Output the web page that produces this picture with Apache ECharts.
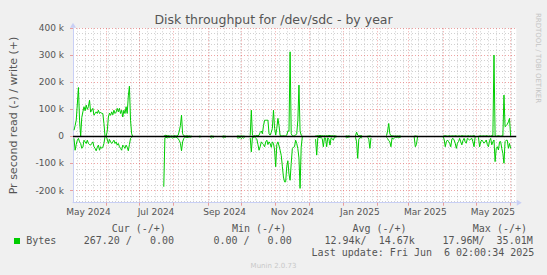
<!DOCTYPE html>
<html>
<head>
<meta charset="utf-8">
<script src="https://cdn.jsdelivr.net/npm/echarts@6/dist/echarts.min.js"></script>
<style>html,body{margin:0;padding:0;background:#f0f0f0}#c{width:547px;height:275px}</style>
</head>
<body>
<div id="c"></div>
<script>
// ---- data (k bytes/s), daily samples, one array per contiguous segment ----
const segStarts = ['2024-05-03','2024-07-23','2024-08-24','2024-09-03','2024-09-14','2024-09-27',
  '2024-10-09','2024-12-07','2025-01-03','2025-01-12','2025-01-23','2025-02-09','2025-03-06',
  '2025-04-01','2025-05-03'];
const writeK = [
  [23,40,60,120,181,60,0,70,91,110, 95,116,100,110,134,90,97,104,79,85, 91,85,97,85,90,85,85,48,0,
   0,20,72,86,78,91,80,97,85,90, 104,91,104,85,97,72,97,85,110,85, 150,186,60,10,0],
  [2,3,5,2,3,2,1,2,1, 2,3,1,2,5,20,40,79,10,3,2,1,3,1,2,1,2],
  [1,2],
  [1,2,1,1],
  [1,2,1,1],
  [1,2,1,1,2,1,1,1],
  [3,97,5,2,3,2,4,2,5,15, 20,10,40,60,60,60,60,10,5,15, 30,97,30,
   5,30,67,40,3,2,2,3,2,2, 5,20,20,313,10,3,2,3,5,10, 60,190,20,5,3],
  [3,2,3,2,4,2,3,2,3,2, 3,2,4,3,2,3,2,3,2,1],
  [1,2,1,2,1],
  [2,16,5,3,2,3,2],
  [2,1,2,1],
  [3,20,48,10,3,2,2,1,2,1,2,1,2,1],
  [1,2,1,1],
  [1,2,3,2,1,2,3,1,2,2, 1,3,2,1,2,2,1,3,2,1, 2,1,2,3,1,2,1,2,3,1],
  [1,2,3,1,2,2,1,3,2,1, 2,1,3,2,301,2,1,2,3,2, 1,2,2,153,36,40,45,54,67, 2]
];
const readK = [
  [7,51,30,14,7,20,26,44,40,14, 20,26,14,26,30,32,26,20,38,44, 53,40,32,51,38,44,40,26,0,
   0,10,26,11,20,26,20,14,26,20, 32,26,38,44,51,32,38,44,32,40, 53,30,7,3,0],
  [186,5,2,6,3,4,2,3,6, 4,3,2,5,8,15,25,53,20,8,3,2,4,3,2,3,2],
  [2,3],
  [3,6,2,4],
  [3,5,2,3],
  [4,6,5,3,8,4,6,3],
  [5,57,3,4,2,6,10,30,51,38, 20,26,30,38,20,14,30,20,26,40, 20,26,50,
   112,30,20,35,51,70,110,150,168,168, 110,90,140,162,100,45,40,38,14,26, 45,80,192,40,2],
  [10,69,5,3,5,4,8,38,5,6, 38,5,10,32,5,8,14,3,2,1],
  [2,5,3,2,1],
  [3,20,81,10,5,4,6],
  [3,10,44,5],
  [3,8,15,20,38,5,10,6,3,4,3,5,3,2],
  [2,38,30,2],
  [1,10,38,20,13,19,25,38,10,7, 13,25,44,25,19,7,20,31,15,7, 20,25,7,10,13,10,7,20,38,1],
  [3,38,20,13,19,25,20,13,30,38, 15,7,31,20,13,93,45,38,50,20, 19,44,63,99,19,14,14,44,26, 44]
];
const yTicks = [-200000,-100000,0,100000,200000,300000,400000];
const monthStarts = ['2024-06-01','2024-07-01','2024-08-01','2024-09-01','2024-10-01','2024-11-01',
  '2024-12-01','2025-01-01','2025-02-01','2025-03-01','2025-04-01','2025-05-01','2025-06-01'];
const labelDates = ['2024-05-16','2024-07-16','2024-09-16','2024-11-16','2025-01-16','2025-03-16','2025-05-16'];
const labelTexts = ['May 2024','Jul 2024','Sep 2024','Nov 2024','Jan 2025','Mar 2025','May 2025'];
const legendHead = ['Cur (-/+)','Min (-/+)','Avg (-/+)','Max (-/+)'];
const legendVals = ['267.20 /','0.00','0.00 /','0.00','12.94k/','14.67k','17.96M/','35.01M'];

// ---- helpers ----
function dayAt(s, i) { const p = s.split('-').map(Number); return new Date(p[0], p[1]-1, p[2] + (i||0)).getTime(); }
function build(vals, sign) {
  const out = [];
  segStarts.forEach((s, k) => {
    vals[k].forEach((v, i) => out.push([dayAt(s, i), sign * v * 1000]));
    out.push([dayAt(s, vals[k].length), '-']);
  });
  return out;
}
const xMin = new Date(2024, 4, 2, 2, 0, 34).getTime();
const xMax = new Date(2025, 5, 6, 2, 0, 34).getTime();
const monthTicks = monthStarts.map(s => dayAt(s, 0));
const labelTs = labelDates.map(s => dayAt(s, 0));
const weekLines = [];
for (let i = 0; ; i++) { const v = new Date(2024, 4, 6 + 7*i).getTime(); if (v > xMax) break; weekLines.push(v); }
const yMinor = [];
for (let v = -240000; v <= 400000; v += 20000) if (v % 100000 !== 0) yMinor.push(v);

const FONT = 'DejaVu Sans';
const MONO = 'DejaVu Sans Mono';
const TXT = '#555555';
const AXIS = '#c8cff5';
const MGRID = 'rgba(230,90,90,0.55)';
const GRID = 'rgba(150,150,150,0.45)';

function txt(x, y, s, size, color, family, align, extra) {
  return Object.assign({type:'text', x:x, y:y, silent:true,
    style:{text:s, fill:color, fontSize:size, fontFamily:family, align:align||'left', verticalAlign:'middle'}}, extra||{});
}
const headX = [111.7, 232, 352.4, 472.8];
const valX = [83.7, 149.9, 213.5, 267.6, 324.5, 378.7, 442.4, 496.6];
const graphics = [
  txt(273.5, 19.5, 'Disk throughput for /dev/sdc - by year', 12.5, TXT, FONT, 'center'),
  txt(537.5, 58, 'RRDTOOL / TOBI OETIKER', 7, '#c4c4c4', FONT, 'center', {rotation: -Math.PI/2}),
  {type:'rect', x:14, y:238, shape:{width:6, height:6}, style:{fill:'#00cc00'}, silent:true},
  txt(26.2, 240.7, 'Bytes', 10, TXT, MONO),
  txt(311.6, 252.9, 'Last update: Fri Jun', 10, TXT, MONO),
  txt(444, 252.9, '6 02:00:34 2025', 10, TXT, MONO),
  txt(273.5, 266.2, 'Munin 2.0.73', 7, '#c8c8c8', FONT, 'center')
];
legendHead.forEach((h, i) => graphics.push(txt(headX[i], 228, h, 10, TXT, MONO)));
legendVals.forEach((h, i) => graphics.push(txt(valX[i], 240.7, h, 10, TXT, MONO)));

const chart = echarts.init(document.getElementById('c'), null, {renderer:'svg', width:547, height:275});
chart.setOption({
  animation: false,
  backgroundColor: '#f0f0f0',
  grid: {left:66.25, right:30.75, top:28.3, bottom:72.3, show:true, backgroundColor:'#ffffff', borderWidth:0},
  xAxis: [
    {type:'value', min:xMin, max:xMax, position:'bottom', z:3,
     axisLine:{show:true, onZero:false, lineStyle:{color:AXIS, width:1}, symbol:['none','triangle'], symbolSize:[6,5], symbolOffset:[0,3]},
     axisTick:{show:true, customValues:monthTicks, length:3, lineStyle:{color:MGRID}},
     axisLabel:{customValues:labelTs, hideOverlap:false, margin:5, fontFamily:FONT, fontSize:9, color:TXT,
       formatter:function(v){ let k=0,b=Infinity; labelTs.forEach((t,i)=>{const d=Math.abs(t-v); if(d<b){b=d;k=i;}}); return labelTexts[k]; }},
     splitLine:{show:true, lineStyle:{color:MGRID, width:1, type:[1,2]}}},
    {type:'value', min:xMin, max:xMax, position:'top', z:1,
     axisLine:{show:false}, axisTick:{show:false, customValues:weekLines}, axisLabel:{show:false, customValues:weekLines},
     splitLine:{show:true, lineStyle:{color:GRID, width:1, type:[1,2]}}}
  ],
  yAxis: [
    {type:'value', min:-245000, max:400000, position:'left', z:3,
     name:'Pr second read (-) / write (+)', nameLocation:'middle', nameGap:54, nameRotate:90,
     nameTextStyle:{fontFamily:FONT, fontSize:11, color:TXT},
     axisLine:{show:true, onZero:false, lineStyle:{color:AXIS, width:1}, symbol:['none','triangle'], symbolSize:[6,5], symbolOffset:[0,3]},
     axisTick:{show:true, customValues:yTicks, length:3, lineStyle:{color:MGRID}},
     axisLabel:{customValues:yTicks, margin:9, fontFamily:FONT, fontSize:9, color:TXT,
       formatter:function(v){ return v === 0 ? '0' : (v/1000) + ' k'; }},
     splitLine:{show:true, lineStyle:{color:MGRID, width:1, type:[1,2]}}},
    {type:'value', min:-245000, max:400000, position:'right', z:1,
     axisLine:{show:false}, axisTick:{show:false, customValues:yMinor}, axisLabel:{show:false, customValues:yMinor},
     splitLine:{show:true, lineStyle:{color:GRID, width:1, type:[1,2]}}}
  ],
  series: [
    {type:'line', name:'Bytes', xAxisIndex:0, yAxisIndex:0, data:build(writeK, 1), showSymbol:false, symbol:'none',
     connectNulls:false, lineStyle:{color:'#00cc00', width:1}, itemStyle:{color:'#00cc00'}, z:3,
     markLine:{silent:true, symbol:'none', label:{show:false}, lineStyle:{color:'#000000', width:1.3, type:'solid'}, data:[{yAxis:0}], z:5}},
    {type:'line', name:'Bytes', xAxisIndex:0, yAxisIndex:0, data:build(readK, -1), showSymbol:false, symbol:'none',
     connectNulls:false, lineStyle:{color:'#00cc00', width:1}, itemStyle:{color:'#00cc00'}, z:3}
  ],
  graphic: graphics
});
</script>
</body>
</html>
